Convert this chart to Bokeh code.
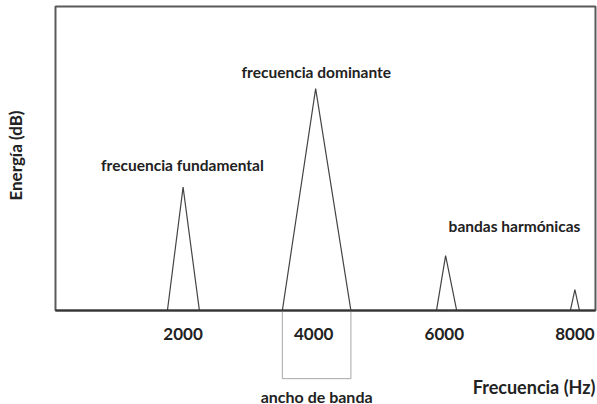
import math
from bokeh.plotting import figure
from bokeh.models import Range1d, Label, PolyAnnotation, BoxAnnotation, FixedTicker
from bokeh.embed import file_html
from bokeh.resources import INLINE

# ---- data ----
tick_values = [2000, 4000, 6000, 8000]
tick_labels = ["2000", "4000", "6000", "8000"]

peak_apex = [2000, 4030, 6020, 8000]
peak_left = [1760, 3520, 5880, 7930]
peak_right = [2250, 4570, 6190, 8070]
peak_heights = [40.6, 73.0, 18.1, 6.9]

label_texts = ["frecuencia fundamental", "frecuencia dominante", "bandas harmónicas"]
label_x = [1990, 4040, 7075]
label_y = [47.8, 78.4, 27.8]

band_left = 3520
band_right = 4570
band_depth = -22.4

x_min, x_max = 46, 8315      # plotting box limits (Hz)
y_top = 100.0                # plotting box top (dB units)

FONT = "Lato"

p = figure(width=597, height=404, output_backend="svg", toolbar_location=None,
           x_range=Range1d(-796, 8346), y_range=Range1d(-30.9, 102.0),
           y_axis_location=None,
           min_border_left=0, min_border_right=0, min_border_top=0, min_border_bottom=0)
p.grid.visible = False
p.background_fill_color = "white"
p.border_fill_color = "white"
p.outline_line_color = None

# plotting box (top/left/right edges)
box = BoxAnnotation(left=x_min, right=x_max, bottom=0, top=y_top,
                    fill_alpha=0, line_color="#5a5a5a", line_alpha=1.0, line_width=2,
                    level="underlay")
p.add_layout(box)

ax = p.xaxis[0]
ax.fixed_location = 0
ax.bounds = (x_min, x_max)
ax.ticker = FixedTicker(ticks=tick_values)
ax.major_label_overrides = {v: t for v, t in zip(tick_values, tick_labels)}
ax.major_tick_line_color = None
ax.minor_tick_line_color = None
ax.axis_line_color = "#333333"
ax.axis_line_width = 2
ax.major_label_standoff = 11
ax.major_label_text_font = FONT
ax.major_label_text_font_style = "bold"
ax.major_label_text_font_size = "17px"
ax.major_label_text_color = "#222222"

# peaks
xs = [[l, a, r] for l, a, r in zip(peak_left, peak_apex, peak_right)]
ys = [[0, h, 0] for h in peak_heights]
p.multi_line(xs, ys, line_color="#444444", line_width=1.2)

# bandwidth bracket
bracket = PolyAnnotation(xs=[band_left, band_left, band_right, band_right],
                         ys=[0, band_depth, band_depth, 0],
                         fill_alpha=0, line_color="#a8a8a8", line_alpha=1.0, line_width=1,
                         level="underlay")
p.add_layout(bracket)

for t, x, y in zip(label_texts, label_x, label_y):
    p.add_layout(Label(x=x, y=y, text=t, text_align="center", text_baseline="alphabetic",
                       text_font=FONT, text_font_style="bold", text_font_size="15.5px",
                       text_color="#222222"))

p.add_layout(Label(x=(band_left + band_right) / 2, y=-28.3, text="ancho de banda",
                   text_align="center", text_baseline="alphabetic",
                   text_font=FONT, text_font_style="bold", text_font_size="16px",
                   text_color="#222222"))

p.add_layout(Label(x=8315, y=-25.0, text="Frecuencia (Hz)", text_align="right",
                   text_baseline="alphabetic", text_font=FONT, text_font_style="bold",
                   text_font_size="18px", text_color="#222222"))

p.add_layout(Label(x=-567, y=51, text="Energía (dB)", angle=math.pi / 2,
                   text_align="center", text_baseline="middle", text_font=FONT,
                   text_font_style="bold", text_font_size="17px", text_color="#222222"))

open("out.html", "w").write(file_html(p, INLINE))
